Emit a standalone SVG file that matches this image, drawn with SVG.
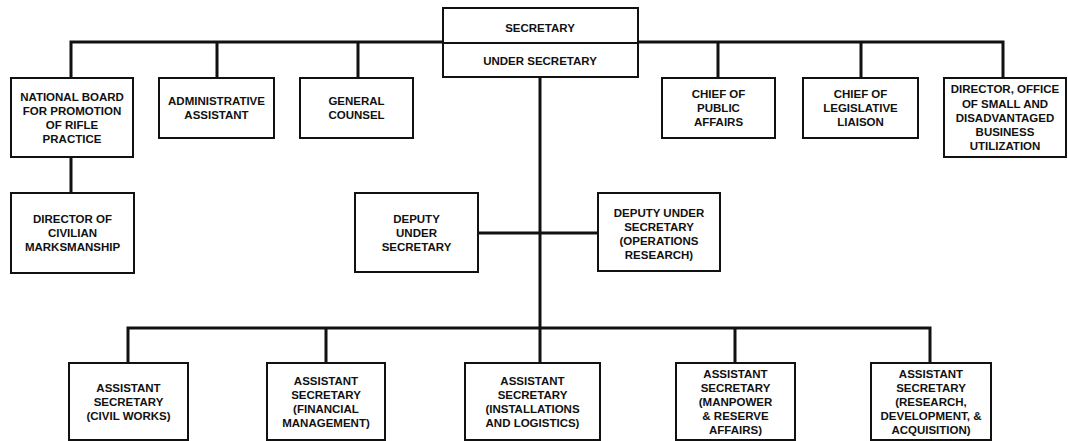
<svg xmlns="http://www.w3.org/2000/svg" width="1068" height="441" viewBox="0 0 1068 441">
  <style>
    .box { fill: #fff; stroke: #111; stroke-width: 2; }
    .conn { fill: none; stroke: #111; stroke-width: 3; }
    text { font-family: "Liberation Sans", Arial, sans-serif; font-weight: bold; font-size: 11.5px; fill: #111; text-anchor: middle; }
  </style>
  <rect width="1068" height="441" fill="#fff"/>

  <!-- connectors -->
  <g id="connectors">
    <path class="conn" d="M71,79 V42 H1003 V79"/>
    <path class="conn" d="M217,42 V79 M358,42 V79 M718,42 V79 M861,42 V79"/>
    <path class="conn" d="M71,157 V194"/>
    <path class="conn" d="M540,77 V328"/>
    <path class="conn" d="M478,233 H598"/>
    <path class="conn" d="M128,364 V328 H930 V364"/>
    <path class="conn" d="M326,328 V364 M540,328 V364 M735,328 V364"/>
  </g>

  <!-- top office -->
  <g id="secretary">
    <rect class="box" x="443" y="8" width="195" height="69"/>
    <line x1="443" y1="43" x2="638" y2="43" stroke="#111" stroke-width="2"/>
    <text x="540" y="32">SECRETARY</text>
    <text x="540" y="65">UNDER SECRETARY</text>
  </g>

  <!-- staff offices -->
  <g id="national-board">
    <rect class="box" x="11" y="78" width="122" height="79"/>
    <text x="72" y="101">NATIONAL BOARD</text>
    <text x="72" y="115">FOR PROMOTION</text>
    <text x="72" y="129">OF RIFLE</text>
    <text x="72" y="143">PRACTICE</text>
  </g>
  <g id="administrative-assistant">
    <rect class="box" x="159" y="78" width="115" height="60"/>
    <text x="216.5" y="105">ADMINISTRATIVE</text>
    <text x="216.5" y="119">ASSISTANT</text>
  </g>
  <g id="general-counsel">
    <rect class="box" x="300" y="78" width="113" height="60"/>
    <text x="356.5" y="105">GENERAL</text>
    <text x="356.5" y="119">COUNSEL</text>
  </g>
  <g id="public-affairs">
    <rect class="box" x="662" y="78" width="113" height="60"/>
    <text x="718.5" y="98">CHIEF OF</text>
    <text x="718.5" y="112">PUBLIC</text>
    <text x="718.5" y="126">AFFAIRS</text>
  </g>
  <g id="legislative-liaison">
    <rect class="box" x="803" y="78" width="115" height="60"/>
    <text x="860.5" y="98">CHIEF OF</text>
    <text x="860.5" y="112">LEGISLATIVE</text>
    <text x="860.5" y="126">LIAISON</text>
  </g>
  <g id="small-business">
    <rect class="box" x="944" y="78" width="122" height="79"/>
    <text x="1005" y="93">DIRECTOR, OFFICE</text>
    <text x="1005" y="107.5">OF SMALL AND</text>
    <text x="1005" y="121.5">DISADVANTAGED</text>
    <text x="1005" y="136">BUSINESS</text>
    <text x="1005" y="150">UTILIZATION</text>
  </g>

  <g id="civilian-marksmanship">
    <rect class="box" x="11" y="193" width="123" height="80"/>
    <text x="72.5" y="223">DIRECTOR OF</text>
    <text x="72.5" y="237">CIVILIAN</text>
    <text x="72.5" y="251">MARKSMANSHIP</text>
  </g>

  <!-- deputies -->
  <g id="deputy-under-secretary">
    <rect class="box" x="355" y="193" width="123" height="79"/>
    <text x="416.5" y="223">DEPUTY</text>
    <text x="416.5" y="237">UNDER</text>
    <text x="416.5" y="251">SECRETARY</text>
  </g>
  <g id="deputy-operations-research">
    <rect class="box" x="598" y="193" width="122" height="78"/>
    <text x="659" y="217">DEPUTY UNDER</text>
    <text x="659" y="231">SECRETARY</text>
    <text x="659" y="245">(OPERATIONS</text>
    <text x="659" y="259">RESEARCH)</text>
  </g>

  <!-- assistant secretaries -->
  <g id="asst-civil-works">
    <rect class="box" x="69" y="363" width="119" height="77"/>
    <text x="128.5" y="392">ASSISTANT</text>
    <text x="128.5" y="406">SECRETARY</text>
    <text x="128.5" y="420">(CIVIL WORKS)</text>
  </g>
  <g id="asst-financial-management">
    <rect class="box" x="267" y="363" width="118" height="77"/>
    <text x="326" y="385">ASSISTANT</text>
    <text x="326" y="399">SECRETARY</text>
    <text x="326" y="413">(FINANCIAL</text>
    <text x="326" y="427">MANAGEMENT)</text>
  </g>
  <g id="asst-installations-logistics">
    <rect class="box" x="465" y="363" width="135" height="77"/>
    <text x="532.5" y="385">ASSISTANT</text>
    <text x="532.5" y="399">SECRETARY</text>
    <text x="532.5" y="413">(INSTALLATIONS</text>
    <text x="532.5" y="427">AND LOGISTICS)</text>
  </g>
  <g id="asst-manpower-reserve">
    <rect class="box" x="676" y="363" width="119" height="77"/>
    <text x="735.5" y="378">ASSISTANT</text>
    <text x="735.5" y="392">SECRETARY</text>
    <text x="735.5" y="406">(MANPOWER</text>
    <text x="735.5" y="420">&amp; RESERVE</text>
    <text x="735.5" y="434">AFFAIRS)</text>
  </g>
  <g id="asst-research-development-acquisition">
    <rect class="box" x="871" y="363" width="120" height="77"/>
    <text x="931" y="378">ASSISTANT</text>
    <text x="931" y="392">SECRETARY</text>
    <text x="931" y="406">(RESEARCH,</text>
    <text x="931" y="420">DEVELOPMENT, &amp;</text>
    <text x="931" y="434">ACQUISITION)</text>
  </g>
</svg>
